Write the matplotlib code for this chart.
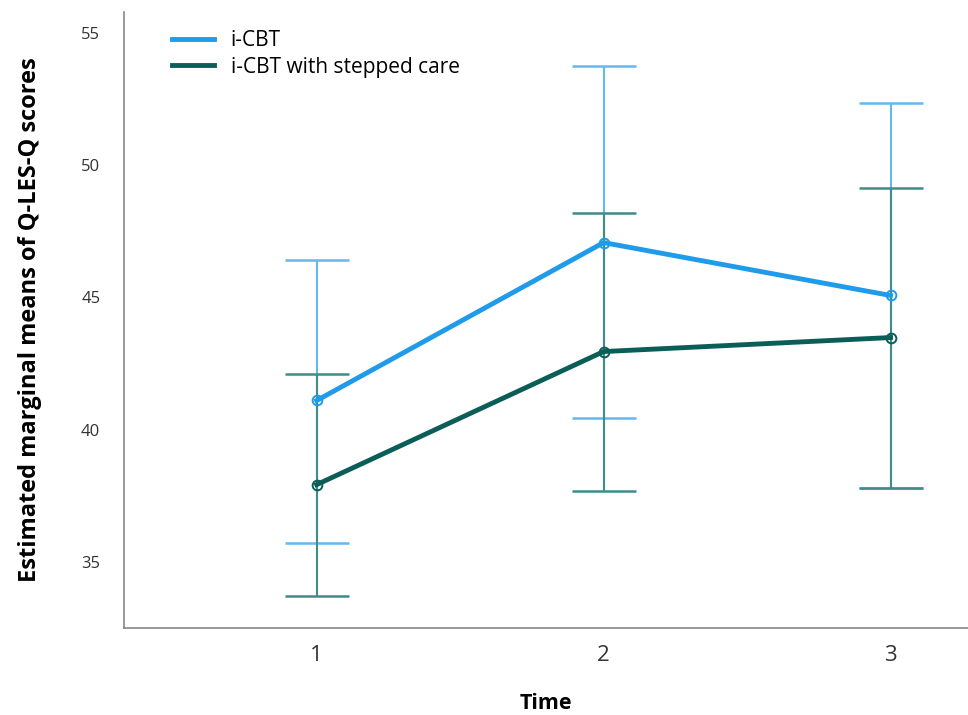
import matplotlib
matplotlib.use("Agg")
import matplotlib.pyplot as plt

time_points = [1, 2, 3]
labels = ["i-CBT", "i-CBT with stepped care"]

icbt_mean = [41.1, 47.07, 45.07]
icbt_low = [35.73, 40.45, 37.8]
icbt_high = [46.43, 53.76, 52.33]

stepped_mean = [37.92, 42.95, 43.48]
stepped_low = [33.72, 37.69, 37.8]
stepped_high = [42.12, 48.17, 49.15]

plt.rcParams['font.family'] = ['Open Sans', 'DejaVu Sans']

fig = plt.figure(figsize=(9.68, 7.15), dpi=100)
ax = fig.add_axes([0.128, 0.1217, 0.872, 0.862])

series = [
    (icbt_mean, icbt_low, icbt_high, "#1f9be9", "#62b8f0", labels[0]),
    (stepped_mean, stepped_low, stepped_high, "#0b5e58", "#3f8c89", labels[1]),
]
for mean, low, high, col, ecol, lab in series:
    yerr = [[m - l for m, l in zip(mean, low)], [h - m for m, h in zip(mean, high)]]
    ax.errorbar(time_points, mean, yerr=yerr, fmt="none", ecolor=ecol,
                elinewidth=1.5, capsize=23, capthick=1.8, zorder=2)
    ax.plot(time_points, mean, color=col, lw=3.5, marker="o", markersize=7,
            markerfacecolor="none", markeredgewidth=1.4, label=lab, zorder=3)

ax.set_xlim(0.328, 3.27)
ax.set_ylim(32.5, 55.8)
ax.set_xticks(time_points)
ax.set_yticks([35, 40, 45, 50, 55])
ax.tick_params(axis="both", length=0, colors="#333333")
ax.tick_params(axis="x", labelsize=16, pad=12)
ax.tick_params(axis="y", labelsize=12, pad=17)
for s in ["top", "right"]:
    ax.spines[s].set_visible(False)
for s in ["left", "bottom"]:
    ax.spines[s].set_color("#888888")
    ax.spines[s].set_linewidth(1.2)

ax.set_xlabel("Time", fontsize=15.5, fontweight="bold", labelpad=20)
ax.set_ylabel("Estimated marginal means of Q-LES-Q scores", fontsize=17,
              fontweight="bold", labelpad=28)

leg = ax.legend(loc="upper left", bbox_to_anchor=(0.035, 1.0), frameon=False,
                fontsize=15, handlelength=2.0, labelspacing=0.25)
for line in leg.get_lines():
    line.set_marker("")

plt.savefig("out.png", dpi=100)
